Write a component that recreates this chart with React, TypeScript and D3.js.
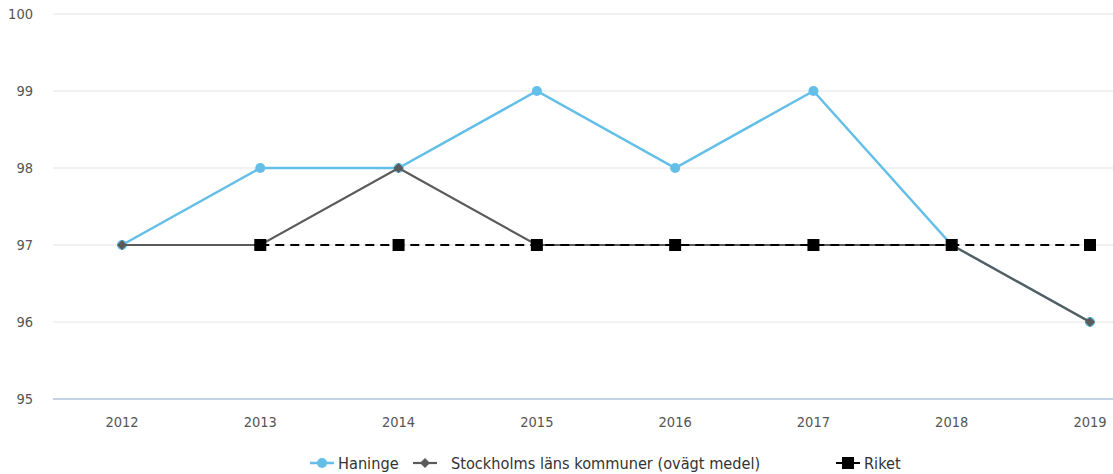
import React from "react";
import * as d3 from "d3";

const years = ["2012", "2013", "2014", "2015", "2016", "2017", "2018", "2019"];
const haninge: (number | null)[] = [97, 98, 98, 99, 98, 99, 97, 96];
const stockholm: (number | null)[] = [97, 97, 98, 97, 97, 97, 97, 96];
const riket: (number | null)[] = [null, 97, 97, 97, 97, 97, 97, 97];
const yTicks = [95, 96, 97, 98, 99, 100];

const W = 1113;
const H = 474;
const FONT = "'DejaVu Sans Condensed', 'DejaVu Sans', Verdana, sans-serif";

const x = d3.scalePoint<string>().domain(years).range([122, 1090]);
const y = d3.scaleLinear().domain([95, 100]).range([399, 14]);

type Pt = { year: string; v: number | null };
const toPts = (vals: (number | null)[]): Pt[] => years.map((year, i) => ({ year, v: vals[i] }));

const line = d3
  .line<Pt>()
  .defined((d) => d.v !== null)
  .x((d) => x(d.year)!)
  .y((d) => y(d.v as number));

const diamond = (cx: number, cy: number, r: number) =>
  `M${cx},${cy - r}L${cx + r},${cy}L${cx},${cy + r}L${cx - r},${cy}Z`;

export default function App() {
  const hPts = toPts(haninge);
  const sPts = toPts(stockholm);
  const rPts = toPts(riket);
  const blue = "#63bfe7";
  const grey = "#5b5b5b";
  const ly = 463;
  return (
    <svg
      width={W}
      height={H}
      style={{ position: "absolute", left: 0, top: 0, background: "#fff", fontStretch: "condensed" }}
      fontFamily={FONT}
    >
      {yTicks.map((t) => (
        <g key={t}>
          <line
            x1={53}
            x2={W}
            y1={y(t)}
            y2={y(t)}
            stroke={t === 95 ? "#c4d3e3" : "#e4e4e4"}
            strokeWidth={t === 95 ? 2 : 1}
          />
          <text x={33} y={y(t)} dy="0.36em" textAnchor="end" fontSize={14.5} fill="#555">
            {t}
          </text>
        </g>
      ))}
      {years.map((yr) => (
        <text key={yr} x={x(yr)} y={427} textAnchor="middle" fontSize={14.5} fill="#555">
          {yr}
        </text>
      ))}

      <path d={line(hPts)!} fill="none" stroke={blue} strokeWidth={2.5} />
      {hPts.filter((d) => d.v !== null).map((d) => (
        <circle key={d.year} cx={x(d.year)} cy={y(d.v as number)} r={5} fill={blue} />
      ))}

      <path d={line(sPts)!} fill="none" stroke={grey} strokeWidth={2.2} />
      {sPts.filter((d) => d.v !== null).map((d) => (
        <path key={d.year} d={diamond(x(d.year)!, y(d.v as number), 5)} fill={grey} />
      ))}

      <path d={line(rPts)!} fill="none" stroke="#000" strokeWidth={2} strokeDasharray="9,6" />
      {rPts.filter((d) => d.v !== null).map((d) => (
        <rect key={d.year} x={x(d.year)! - 6} y={y(d.v as number) - 6} width={12} height={12} fill="#000" />
      ))}

      {/* legend */}
      <g fontSize={16.2} fill="#333">
        <line x1={310} x2={334} y1={ly} y2={ly} stroke={blue} strokeWidth={2.5} />
        <circle cx={322} cy={ly} r={5} fill={blue} />
        <text x={338} y={ly} dy="0.36em">Haninge</text>

        <line x1={413} x2={437} y1={ly} y2={ly} stroke={grey} strokeWidth={2.2} />
        <path d={diamond(425, ly, 5)} fill={grey} />
        <text x={451} y={ly} dy="0.36em">Stockholms läns kommuner (ovägt medel)</text>

        <line x1={836} x2={860} y1={ly} y2={ly} stroke="#000" strokeWidth={2} strokeDasharray="9,6" />
        <rect x={842} y={ly - 6} width={12} height={12} fill="#000" />
        <text x={864} y={ly} dy="0.36em">Riket</text>
      </g>
    </svg>
  );
}
